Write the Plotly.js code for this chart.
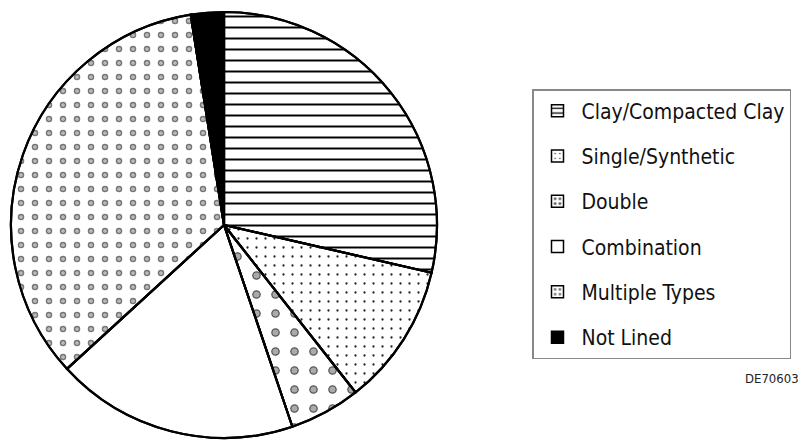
<!DOCTYPE html>
<html>
<head>
<meta charset="utf-8">
<script src="https://cdn.plot.ly/plotly-3.0.1.min.js"></script>
<style>html,body{margin:0;padding:0;background:#fff;}#chart{width:801px;height:440px;}</style>
</head>
<body>
<div id="chart"></div>
<script>
// Liner types (share of total, %)
const categories = ["Clay/Compacted Clay", "Single/Synthetic", "Double", "Combination", "Multiple Types", "Not Lined"];
const shares = [28.6, 10.8, 5.4, 18.4, 34.3, 2.5];
const figureCode = "DE70603";

const fillColors = ["#ffffff", "#ffffff", "#ffffff", "#ffffff", "#ffffff", "#000000"];
const patShapes = ["-", ".", ".", "", ".", ""];
const patSizes = [11, 9, 19, 10, 14, 10];
const patSolidity = [0.18, 0.05, 0.16, 0.2, 0.17, 0.2];
const patFg = ["#000000", "#222222", "#555555", "#000000", "#777777", "#000000"];
// inner white holes (turn dots into rings)
const holeShapes = ["", "", ".", "", ".", ""];
const holeSolidity = [0.1, 0.1, 0.08, 0.1, 0.055, 0.1];

const font = "'Liberation Sans Narrow', 'Arial Narrow', 'DejaVu Sans Condensed', sans-serif";
const W = 801, H = 440;
const cx = 224, cy = 225, R = 213;
const dom = {x: [(cx - R) / W, (cx + R) / W], y: [(H - cy - R) / H, (H - cy + R) / H]};

const traces = [];
traces.push({
  type: "pie",
  labels: categories,
  values: shares,
  sort: false,
  direction: "clockwise",
  rotation: 0,
  textinfo: "none",
  hoverinfo: "label+percent",
  showlegend: false,
  domain: dom,
  marker: {
    colors: fillColors,
    line: {color: "#000000", width: 2.2},
    pattern: {shape: patShapes, size: patSizes, solidity: patSolidity, fgcolor: patFg, bgcolor: fillColors, fillmode: "replace"}
  }
});
traces.push({
  type: "pie",
  labels: categories,
  values: shares,
  sort: false,
  direction: "clockwise",
  rotation: 0,
  textinfo: "none",
  hoverinfo: "skip",
  showlegend: false,
  domain: dom,
  marker: {
    colors: categories.map(() => "rgba(0,0,0,0)"),
    line: {color: "#000000", width: 2.2},
    pattern: {shape: holeShapes, size: patSizes, solidity: holeSolidity, fgcolor: "#ffffff", bgcolor: "rgba(0,0,0,0)", fillmode: "overlay"}
  }
});
// legend entries
categories.forEach((c, i) => {
  traces.push({
    type: "bar",
    name: c,
    x: [c],
    y: [0],
    legendgroup: "g" + i,
    showlegend: true,
    hoverinfo: "skip",
    marker: {
      color: fillColors[i],
      line: {color: "#000000", width: 1.5},
      pattern: {shape: patShapes[i], size: Math.min(patSizes[i], 6), solidity: Math.min(patSolidity[i] * 1.5, 0.3), fgcolor: patFg[i], bgcolor: fillColors[i], fillmode: "replace"}
    }
  });
});

const layout = {
  width: W, height: H,
  margin: {l: 0, r: 0, t: 0, b: 0},
  paper_bgcolor: "#ffffff",
  plot_bgcolor: "rgba(0,0,0,0)",
  font: {family: font, color: "#111111"},
  showlegend: true,
  xaxis: {visible: false, domain: [0.98, 1], fixedrange: true},
  yaxis: {visible: false, domain: [0, 0.01], range: [1, 2], fixedrange: true},
  legend: {
    x: 532 / W, xanchor: "left",
    y: (H - 89) / H, yanchor: "top",
    bgcolor: "#ffffff",
    bordercolor: "#888888", borderwidth: 1.5,
    font: {family: font, size: 21, color: "#111111"},
    traceorder: "grouped",
    tracegroupgap: 15,
    itemwidth: 38,
    itemclick: false, itemdoubleclick: false
  },
  annotations: [{
    text: figureCode,
    xref: "paper", yref: "paper",
    x: 1, y: (H - 378) / H, xanchor: "right", yanchor: "middle",
    showarrow: false,
    font: {family: font, size: 13, color: "#222222"}
  }]
};

Plotly.newPlot("chart", traces, layout, {displayModeBar: false, staticPlot: true});
</script>
</body>
</html>
